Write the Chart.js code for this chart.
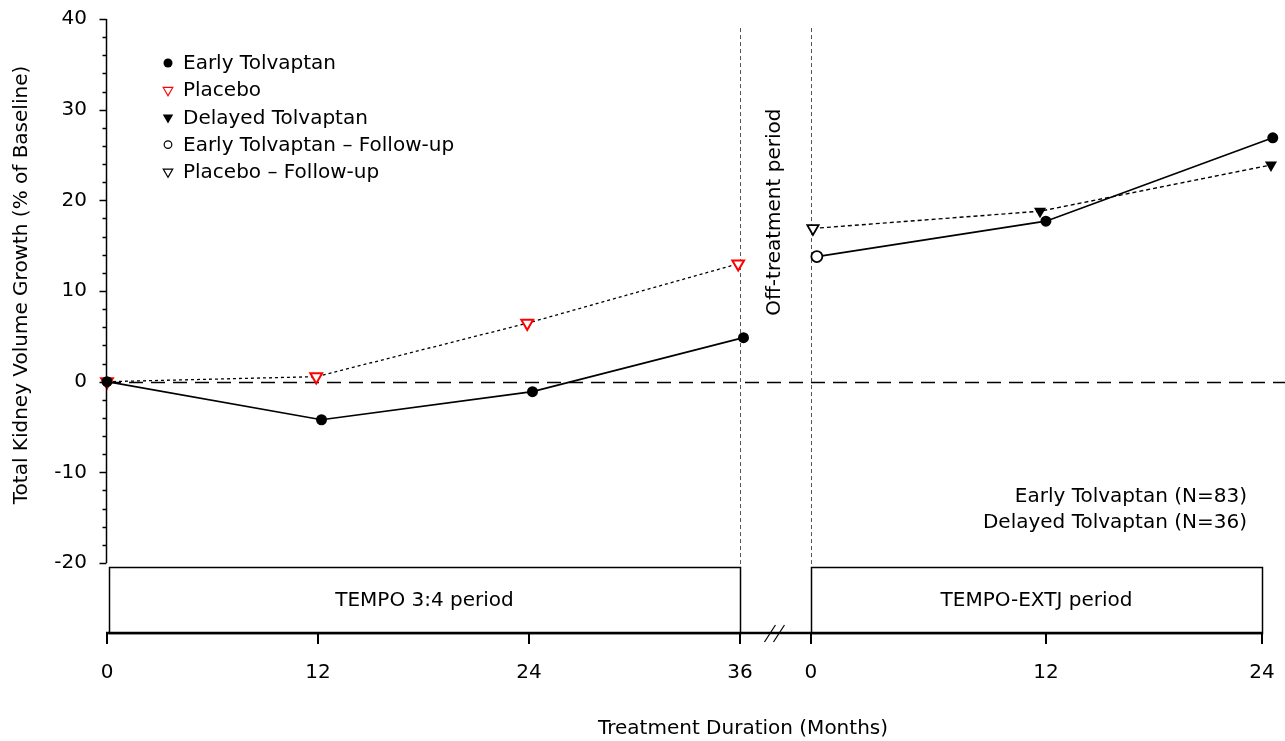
<!DOCTYPE html>
<html lang="en">
<head>
<meta charset="UTF-8">
<script src="https://cdn.jsdelivr.net/npm/chart.js"></script>
<title>Total Kidney Volume Growth</title>
<style>
  body { margin: 0; background: #fff; }
</style>
</head>
<body>
<canvas id="myChart" width="1285" height="741"></canvas>
<script>
// tick labels
const tempoTicks = [0, 12, 24, 36];
const extTicks = [0, 12, 24];
const extTickPos = [40.04, 53.4, 65.69]; // axis position of the extension ticks (after the break)
const yTicks = [-20, -10, 0, 10, 20, 30, 40];

// TEMPO 3:4 period
const earlyMonths = [0, 12.2, 24.2, 36.2];
const earlyValues = [0, -4.2, -1.1, 4.85];
const placeboMonths = [0, 11.9, 23.9, 35.9];
const placeboValues = [0, 0.55, 6.45, 13.0];

// TEMPO-EXTJ period
const earlyExtMonths = [0.3, 12.0, 24.6];
const earlyExtValues = [13.8, 17.7, 26.9];
const delayedExtMonths = [0.1, 11.7, 24.5];
const delayedExtValues = [16.9, 18.8, 23.9];

const FONT = 'DejaVu Sans';
const FS = 20;
const BOX_TOP = -20.44;

// months in the extension -> position on the broken axis
function extPos(m) {
    const i = m <= extTicks[1] ? 0 : 1;
    const k = (extTickPos[i + 1] - extTickPos[i]) / (extTicks[i + 1] - extTicks[i]);
    return extTickPos[i] + (m - extTicks[i]) * k;
}

const earlyData = earlyMonths.map((m, i) => ({ x: m, y: earlyValues[i] }))
    .concat([{ x: 38, y: null }])
    .concat(earlyExtMonths.map((m, i) => ({ x: extPos(m), y: earlyExtValues[i], fu: i === 0 })));
const placeboData = placeboMonths.map((m, i) => ({ x: m, y: placeboValues[i] }));
const delayedData = delayedExtMonths.map((m, i) => ({ x: extPos(m), y: delayedExtValues[i], fu: i === 0 }));

const xTickPos = tempoTicks.concat(extTickPos);
const xTickLabels = tempoTicks.concat(extTicks).map(String);

const hideFu = (r) => (ctx) => (ctx.raw && ctx.raw.fu ? 0 : r);

const data = {
    datasets: [{
        label: 'Early Tolvaptan',
        data: earlyData,
        clip: false,
        borderColor: '#000',
        borderWidth: 1.7,
        pointStyle: 'circle',
        pointRadius: hideFu(5.5),
        pointBackgroundColor: '#000',
        pointBorderColor: '#000',
        pointBorderWidth: 0,
        legendMarker: { pointStyle: 'circle', radius: 4.5, fill: '#000', stroke: '#000', borderWidth: 0, rotation: 0 }
    }, {
        label: 'Placebo',
        data: placeboData,
        clip: false,
        borderColor: '#000',
        borderWidth: 1.3,
        borderDash: [3, 3],
        pointStyle: 'triangle',
        rotation: 180,
        pointRadius: 6.8,
        pointBackgroundColor: '#fff',
        pointBorderColor: '#ff0000',
        pointBorderWidth: 2,
        legendMarker: { pointStyle: 'triangle', radius: 5.5, fill: '#fff', stroke: '#ff0000', borderWidth: 1.8, rotation: 180 }
    }, {
        label: 'Delayed Tolvaptan',
        data: delayedData,
        clip: false,
        borderColor: '#000',
        borderWidth: 1.4,
        borderDash: [4, 3],
        pointStyle: 'triangle',
        rotation: 180,
        pointRadius: hideFu(7),
        pointBackgroundColor: '#000',
        pointBorderColor: '#000',
        pointBorderWidth: 0,
        legendMarker: { pointStyle: 'triangle', radius: 6, fill: '#000', stroke: '#000', borderWidth: 0, rotation: 180 }
    }, {
        label: 'Early Tolvaptan \u2013 Follow-up',
        data: [{ x: extPos(earlyExtMonths[0]), y: earlyExtValues[0] }],
        showLine: false,
        clip: false,
        order: -1,
        pointStyle: 'circle',
        pointRadius: 5.5,
        pointBackgroundColor: '#fff',
        pointBorderColor: '#000',
        pointBorderWidth: 1.8,
        legendMarker: { pointStyle: 'circle', radius: 3.8, fill: '#fff', stroke: '#000', borderWidth: 1.6, rotation: 0 }
    }, {
        label: 'Placebo \u2013 Follow-up',
        data: [{ x: extPos(delayedExtMonths[0]), y: delayedExtValues[0] }],
        showLine: false,
        clip: false,
        order: -1,
        pointStyle: 'triangle',
        rotation: 180,
        pointRadius: 6.5,
        pointBackgroundColor: '#fff',
        pointBorderColor: '#000',
        pointBorderWidth: 1.8,
        legendMarker: { pointStyle: 'triangle', radius: 5.5, fill: '#fff', stroke: '#000', borderWidth: 1.8, rotation: 180 }
    }]
};

// axes, boxes, legend and notes drawn on the canvas
const decor = {
    id: 'decor',
    beforeDatasetsDraw(chart) {
        const { ctx, scales: { x, y } } = chart;
        ctx.save();
        // zero line
        const y0 = Math.round(y.getPixelForValue(0)) + 0.5;
        ctx.strokeStyle = '#000';
        ctx.lineWidth = 1.3;
        ctx.setLineDash([14, 8]);
        ctx.beginPath();
        ctx.moveTo(x.getPixelForValue(0), y0);
        ctx.lineTo(chart.width, y0);
        ctx.stroke();
        // period limits
        ctx.strokeStyle = '#555';
        ctx.lineWidth = 1;
        ctx.setLineDash([4, 3]);
        [36, extTickPos[0]].forEach(v => {
            const px = Math.round(x.getPixelForValue(v)) + 0.5;
            ctx.beginPath();
            ctx.moveTo(px, y.getPixelForValue(39));
            ctx.lineTo(px, y.getPixelForValue(BOX_TOP));
            ctx.stroke();
        });
        ctx.restore();
    },
    afterDraw(chart) {
        const { ctx, chartArea, scales: { x, y } } = chart;
        ctx.save();
        ctx.setLineDash([]);
        ctx.strokeStyle = '#000';
        ctx.fillStyle = '#000';

        // y axis with minor ticks
        const ax = Math.round(x.getPixelForValue(0)) - 0.5;
        ctx.lineWidth = 1.5;
        ctx.beginPath();
        ctx.moveTo(ax, y.getPixelForValue(40));
        ctx.lineTo(ax, y.getPixelForValue(-20));
        for (let v = -20; v <= 40; v += 2) {
            const py = Math.round(y.getPixelForValue(v)) + 0.5;
            ctx.moveTo(ax, py);
            ctx.lineTo(ax - (v % 10 === 0 ? 7 : 4), py);
        }
        ctx.stroke();

        // boxes for the two periods
        const bTop = y.getPixelForValue(BOX_TOP);
        const bBot = chartArea.bottom;
        ctx.lineWidth = 1.5;
        const boxes = [
            [x.getPixelForValue(0) + 2, x.getPixelForValue(36), 'TEMPO 3:4 period'],
            [x.getPixelForValue(extTickPos[0]), x.getPixelForValue(extTickPos[2]), 'TEMPO-EXTJ period']
        ];
        ctx.font = FS + 'px "' + FONT + '"';
        ctx.textAlign = 'center';
        ctx.textBaseline = 'middle';
        boxes.forEach(([l, r, t]) => {
            ctx.strokeRect(Math.round(l) + 0.5, Math.round(bTop) + 0.5, Math.round(r - l), Math.round(bBot - bTop));
            ctx.fillText(t, (l + r) / 2, (bTop + bBot) / 2 + 1);
        });

        // x axis with break
        ctx.lineWidth = 2.5;
        ctx.beginPath();
        ctx.moveTo(x.getPixelForValue(0) - 1, bBot);
        ctx.lineTo(x.getPixelForValue(extTickPos[2]) + 1, bBot);
        ctx.stroke();
        ctx.lineWidth = 2;
        ctx.beginPath();
        xTickPos.forEach(v => {
            const px = Math.round(x.getPixelForValue(v));
            ctx.moveTo(px, bBot);
            ctx.lineTo(px, bBot + 11);
        });
        ctx.stroke();
        const bx = (x.getPixelForValue(36) + x.getPixelForValue(extTickPos[0])) / 2;
        ctx.lineWidth = 1.2;
        ctx.beginPath();
        [-5, 4].forEach(d => {
            ctx.moveTo(bx + d - 6, bBot + 9);
            ctx.lineTo(bx + d + 5, bBot - 8);
        });
        ctx.stroke();

        // notes
        ctx.save();
        ctx.translate(bx - 1, y.getPixelForValue(18.7));
        ctx.rotate(-Math.PI / 2);
        ctx.textAlign = 'center';
        ctx.fillText('Off-treatment period', 0, 0);
        ctx.restore();

        ctx.textAlign = 'right';
        const nx = x.getPixelForValue(extTickPos[2]) - 15;
        ctx.fillText('Early Tolvaptan (N=83)', nx, y.getPixelForValue(-12.75));
        ctx.fillText('Delayed Tolvaptan (N=36)', nx, y.getPixelForValue(-15.6));

        // axis titles
        ctx.textAlign = 'center';
        ctx.fillText('Treatment Duration (Months)', 743, 729);
        ctx.save();
        ctx.translate(22, (y.getPixelForValue(40) + y.getPixelForValue(-20)) / 2 - 6);
        ctx.rotate(-Math.PI / 2);
        ctx.fillText('Total Kidney Volume Growth (% of Baseline)', 0, 0);
        ctx.restore();

        // legend
        ctx.textAlign = 'left';
        chart.data.datasets.forEach((ds, i) => {
            const m = ds.legendMarker;
            const ly = 63 + i * 27.2;
            ctx.fillStyle = m.fill;
            ctx.strokeStyle = m.stroke;
            Chart.helpers.drawPoint(ctx, {
                pointStyle: m.pointStyle, radius: m.radius, rotation: m.rotation, borderWidth: m.borderWidth
            }, 168, ly);
            ctx.fillStyle = '#000';
            ctx.fillText(ds.label, 183, ly + 1);
        });
        ctx.restore();
    }
};

const config = {
    type: 'line',
    data: data,
    options: {
        responsive: false,
        animation: false,
        layout: { autoPadding: false, padding: { top: 19, right: 0, left: 0, bottom: 0 } },
        plugins: {
            legend: { display: false },
            tooltip: { enabled: false }
        },
        scales: {
            x: {
                type: 'linear',
                min: 0,
                max: 67.0,
                grid: { display: false },
                border: { display: false },
                afterBuildTicks: (scale) => {
                    scale.ticks = xTickPos.map(v => ({ value: v }));
                },
                afterFit: (scale) => {
                    scale.height = 108;
                    scale.paddingLeft = 0;
                    scale.paddingRight = 0;
                },
                ticks: {
                    autoSkip: false,
                    maxRotation: 0,
                    padding: 20,
                    color: '#000',
                    font: { family: FONT, size: FS },
                    callback: (value, index) => xTickLabels[index]
                }
            },
            y: {
                type: 'linear',
                min: -27.72,
                max: 40,
                grid: { display: false },
                border: { display: false },
                afterBuildTicks: (scale) => {
                    scale.ticks = yTicks.map(v => ({ value: v }));
                },
                afterFit: (scale) => {
                    scale.width = 107;
                    scale.paddingTop = 0;
                    scale.paddingBottom = 0;
                },
                ticks: {
                    padding: 12,
                    color: '#000',
                    font: { family: FONT, size: FS }
                }
            }
        }
    },
    plugins: [decor]
};

const myChart = new Chart(document.getElementById('myChart'), config);
</script>
</body>
</html>
